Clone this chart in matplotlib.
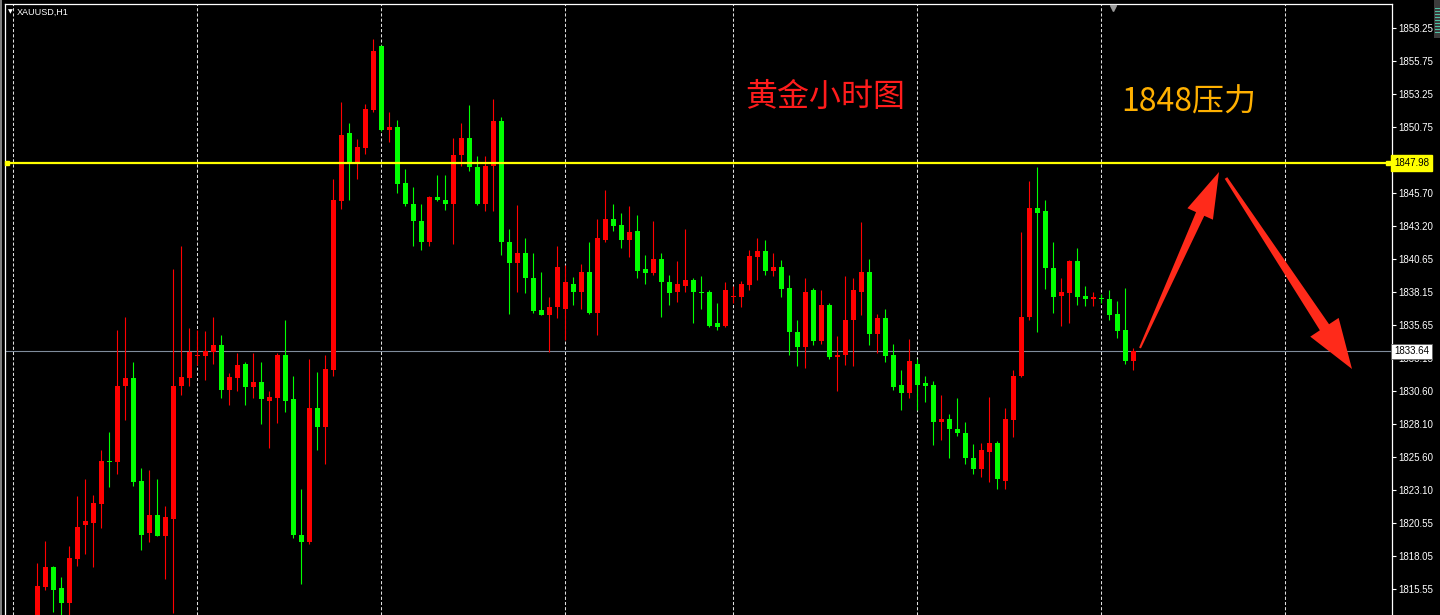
import matplotlib
matplotlib.use('Agg')
import matplotlib.pyplot as plt
from matplotlib.patches import Polygon, Rectangle
import numpy as np

# XAUUSD H1 bars (open, high, low, close)
opens = [1812.8, 1815.7, 1817.2, 1815.6, 1814.5, 1817.8, 1820.4, 1820.6, 1822.0, 1825.3,
         1825.2, 1831.0, 1831.6, 1823.8, 1819.8, 1821.2, 1819.6, 1820.9, 1831.0, 1831.6,
         1833.3, 1833.3, 1833.6, 1834.1, 1830.7, 1831.6, 1832.7, 1830.9, 1831.3, 1829.9,
         1830.1, 1833.4, 1830.0, 1819.7, 1819.1, 1829.3, 1827.9, 1832.2, 1845.1, 1850.3,
         1848.1, 1849.1, 1852.0, 1856.9, 1850.5, 1850.7, 1846.5, 1844.9, 1843.6, 1842.0,
         1845.4, 1845.2, 1844.9, 1848.6, 1849.9, 1847.7, 1844.9, 1847.8, 1851.2, 1842.0,
         1840.4, 1841.1, 1839.2, 1836.8, 1836.4, 1837.0, 1836.9, 1838.8, 1838.2, 1839.7,
         1836.6, 1842.1, 1843.7, 1843.3, 1842.1, 1842.8, 1839.9, 1839.6, 1840.7, 1838.9,
         1838.2, 1838.6, 1839.1, 1838.2, 1838.2, 1835.8, 1835.6, 1837.8, 1837.8, 1838.7,
         1840.8, 1841.3, 1839.8, 1840.1, 1838.5, 1835.1, 1834.0, 1838.3, 1834.4, 1837.2,
         1833.2, 1833.4, 1836.0, 1838.2, 1839.7, 1835.0, 1836.2, 1833.4, 1831.1, 1830.5,
         1832.7, 1831.2, 1831.1, 1828.3, 1828.5, 1827.7, 1827.4, 1825.5, 1824.7, 1826.0,
         1826.7, 1823.8, 1828.4, 1831.8, 1836.3, 1844.6, 1844.3, 1840.0, 1837.9, 1838.1,
         1840.5, 1837.9, 1837.6, 1837.7, 1837.6, 1836.5, 1835.3, 1832.9]
highs = [1817.5, 1819.2, 1817.3, 1816.5, 1818.8, 1822.6, 1823.9, 1822.7, 1826.1, 1827.5,
         1835.3, 1836.3, 1832.8, 1824.8, 1824.6, 1823.9, 1821.9, 1839.9, 1841.7, 1835.4,
         1835.3, 1835.2, 1836.3, 1834.9, 1832.0, 1833.5, 1832.8, 1833.5, 1832.8, 1830.6,
         1833.5, 1836.0, 1831.8, 1823.2, 1833.1, 1832.1, 1833.4, 1846.8, 1852.6, 1851.0,
         1849.8, 1852.5, 1857.4, 1857.0, 1851.9, 1851.3, 1847.5, 1846.2, 1844.9, 1845.5,
         1847.1, 1847.1, 1849.9, 1851.0, 1852.4, 1848.5, 1848.5, 1852.9, 1851.5, 1843.0,
         1844.8, 1842.3, 1841.1, 1839.7, 1837.8, 1841.7, 1840.2, 1839.3, 1840.3, 1842.0,
         1843.7, 1845.9, 1844.9, 1844.2, 1844.7, 1844.0, 1841.0, 1843.6, 1841.1, 1839.5,
         1840.5, 1843.0, 1839.2, 1839.4, 1838.3, 1837.3, 1838.9, 1838.6, 1839.0, 1841.4,
         1842.3, 1842.1, 1841.1, 1840.6, 1839.5, 1836.0, 1839.2, 1838.5, 1838.3, 1837.3,
         1834.8, 1839.4, 1839.2, 1843.5, 1840.7, 1836.5, 1836.9, 1834.2, 1832.2, 1834.6,
         1833.1, 1831.8, 1831.4, 1830.3, 1828.9, 1830.1, 1828.3, 1826.6, 1826.7, 1830.2,
         1826.8, 1829.3, 1832.2, 1842.7, 1846.6, 1847.7, 1845.2, 1842.0, 1839.2, 1840.6,
         1841.5, 1838.6, 1838.2, 1838.0, 1838.3, 1837.5, 1838.5, 1833.9]
lows = [1812.4, 1815.5, 1813.8, 1813.2, 1813.3, 1817.3, 1818.2, 1817.2, 1820.2, 1823.3,
        1824.3, 1828.4, 1823.4, 1818.5, 1819.1, 1819.6, 1816.3, 1813.7, 1830.3, 1831.0,
        1832.6, 1831.5, 1832.7, 1830.1, 1829.6, 1830.6, 1829.6, 1830.1, 1828.1, 1826.3,
        1828.2, 1829.0, 1819.4, 1815.9, 1819.0, 1826.1, 1825.1, 1831.8, 1844.5, 1845.2,
        1846.8, 1848.7, 1851.9, 1850.4, 1849.6, 1845.7, 1844.7, 1841.7, 1841.4, 1841.7,
        1845.1, 1844.4, 1841.8, 1847.8, 1847.4, 1844.8, 1844.3, 1844.3, 1841.0, 1836.5,
        1838.2, 1838.1, 1836.6, 1836.4, 1833.6, 1836.2, 1834.5, 1837.2, 1836.9, 1836.5,
        1834.9, 1842.0, 1842.8, 1841.5, 1840.8, 1839.2, 1838.8, 1839.5, 1836.3, 1837.2,
        1837.4, 1838.2, 1835.8, 1836.9, 1835.5, 1835.3, 1835.5, 1837.3, 1837.0, 1838.3,
        1839.1, 1839.5, 1839.4, 1837.8, 1833.4, 1832.5, 1832.4, 1834.1, 1834.2, 1833.1,
        1830.6, 1832.6, 1832.5, 1836.4, 1834.1, 1833.5, 1832.8, 1830.7, 1829.2, 1830.1,
        1829.2, 1829.8, 1826.5, 1826.9, 1825.5, 1827.2, 1825.1, 1824.3, 1824.1, 1823.7,
        1823.2, 1823.2, 1827.1, 1831.7, 1836.0, 1835.1, 1838.4, 1836.6, 1835.6, 1835.8,
        1837.2, 1837.1, 1837.1, 1837.3, 1836.0, 1834.7, 1832.7, 1832.2]
closes = [1815.8, 1817.2, 1815.5, 1814.5, 1817.9, 1820.3, 1820.7, 1822.1, 1825.3, 1825.2,
          1831.0, 1831.6, 1823.7, 1819.7, 1821.2, 1819.6, 1821.0, 1831.0, 1831.7, 1833.6,
          1833.4, 1833.7, 1834.1, 1830.7, 1831.7, 1832.6, 1830.9, 1831.3, 1830.0, 1830.2,
          1833.4, 1829.9, 1819.7, 1819.1, 1829.3, 1827.9, 1832.3, 1845.2, 1850.1, 1848.1,
          1849.2, 1852.1, 1856.5, 1850.5, 1850.7, 1846.4, 1844.9, 1843.6, 1842.0, 1845.4,
          1845.2, 1844.9, 1848.6, 1849.9, 1847.7, 1844.9, 1847.8, 1851.2, 1842.0, 1840.4,
          1841.1, 1839.2, 1836.7, 1836.4, 1837.0, 1840.1, 1838.9, 1838.2, 1839.7, 1836.6,
          1842.3, 1843.7, 1843.2, 1842.1, 1842.7, 1839.8, 1839.6, 1840.7, 1838.9, 1838.1,
          1838.8, 1839.1, 1838.2, 1838.1, 1835.6, 1835.5, 1838.3, 1837.9, 1838.8, 1840.9,
          1841.3, 1839.8, 1840.1, 1838.4, 1835.1, 1834.0, 1838.2, 1834.4, 1837.2, 1833.2,
          1833.4, 1836.0, 1838.3, 1839.7, 1835.0, 1836.2, 1833.3, 1830.9, 1830.5, 1832.9,
          1831.1, 1831.0, 1828.3, 1828.5, 1827.7, 1827.4, 1825.5, 1824.7, 1826.1, 1826.7,
          1823.9, 1828.5, 1831.8, 1836.3, 1844.6, 1844.2, 1840.0, 1837.8, 1838.2, 1840.5,
          1837.8, 1837.6, 1837.8, 1837.6, 1836.4, 1835.2, 1832.9, 1833.64]

resistance = 1847.98
last_price = 1833.64
# 1848.20 sits under the yellow price box in the original, so it is left out
price_labels = [1858.25, 1855.75, 1853.25, 1850.75, 1845.70, 1843.20, 1840.65,
                1838.15, 1835.65, 1833.15, 1830.60, 1828.10, 1825.60, 1823.10, 1820.55,
                1818.05, 1815.55]
day_breaks = [-3, 20, 43, 66, 87, 110, 133, 156]
symbol = 'XAUUSD,H1'
title_cn = '黄金小时图'
note_cn = '1848压力'

W, H = 1440, 615
axfont = 'Liberation Sans'
fig = plt.figure(figsize=(W / 100, H / 100), dpi=100, facecolor='black')
ax = fig.add_axes([5 / W, 0, 1387 / W, 611 / H], facecolor='black')

o = np.array(opens); h = np.array(highs); l = np.array(lows); c = np.array(closes)
x = np.arange(len(o))
up = c >= o
cols = np.where(up, '#ff0000', '#00ff00')

for xb in day_breaks:
    ax.axvline(xb, color='#e0e0e0', lw=0.75, ls=(0, (3, 2)), zorder=1)

ax.vlines(x, l, h, colors=cols, lw=0.8, zorder=3)
body_lo = np.minimum(o, c)
body_h = np.maximum(np.abs(c - o), 0.08)
ax.bar(x, body_h, bottom=body_lo, width=0.64, color=cols, linewidth=0, zorder=4)

# horizontal lines
ax.axhline(resistance, color='#ffff00', lw=1.6, zorder=5)
ax.plot([0.0015, 0.997], [resistance, resistance], 's', ms=3.5, color='#ffff00',
        transform=ax.get_yaxis_transform(), clip_on=False, zorder=6)
ax.axhline(last_price, color='#7f8c9c', lw=0.8, zorder=2)

ax.set_xlim(-4.04, 169.33)
ax.set_ylim(1813.57, 1860.10)

ax.yaxis.tick_right()
ax.set_yticks(price_labels)
ax.set_yticklabels(['%.2f' % p for p in price_labels], family=axfont)
ax.tick_params(axis='y', direction='out', length=3, width=0.8, color='white',
               labelcolor='white', labelsize=7, pad=1.5)
ax.set_xticks([])
for s in ['left', 'right', 'top']:
    ax.spines[s].set_color('white')
    ax.spines[s].set_linewidth(0.9)
ax.spines['bottom'].set_visible(False)

tr = ax.get_yaxis_transform()
ax.text(1.0015, resistance, '%.2f' % resistance, transform=tr, fontsize=7, color='black',
        family=axfont, va='center', ha='left', zorder=10, clip_on=False,
        bbox=dict(boxstyle='square,pad=0.3', fc='#ffff00', ec='#ffff00'))
ax.text(1.0015, last_price, '%.2f' % last_price, transform=tr, fontsize=7, color='black',
        family=axfont, va='center', ha='left', zorder=10, clip_on=False,
        bbox=dict(boxstyle='square,pad=0.3', fc='white', ec='#606060', lw=0.6))

# chart shift marker
ax.plot([0.7988], [0.994], 'v', ms=5, color='#9a9a9a', transform=ax.transAxes,
        clip_on=False, zorder=6)

# top-left symbol label
fig.text(8 / W, 1 - 12 / H, '▼', color='white', fontsize=4.5, va='center')
fig.text(17 / W, 1 - 12 / H, symbol, color='white', fontsize=6.5, family=axfont,
         va='center')

# annotations
cjk = ['Noto Sans CJK SC', 'DejaVu Sans']
fig.text(825 / W, 1 - 97 / H, title_cn, color='#ff1c1c', fontsize=23, family=cjk,
         ha='center', va='center')
fig.text(1189 / W, 1 - 103 / H, note_cn, color='#ffb000', fontsize=23, family=cjk,
         ha='center', va='center')


def arrow_poly(x0, y0, x1, y1, w0, w1, hw, hl):
    d = np.array([x1 - x0, y1 - y0], float)
    u = d / np.hypot(*d)
    n = np.array([-u[1], u[0]])
    p0 = np.array([x0, y0], float)
    tip = np.array([x1, y1], float)
    base = tip - u * hl
    pts = [p0 + n * w0 / 2, base + n * w1 / 2, base + n * hw / 2, tip,
           base - n * hw / 2, base - n * w1 / 2, p0 - n * w0 / 2]
    return [(px / W, 1 - py / H) for px, py in pts]


for a in [(1140, 348, 1219, 172, 2, 9, 28, 46), (1226, 178, 1352, 369, 3, 11, 34, 50)]:
    fig.add_artist(Polygon(arrow_poly(*a), closed=True, fc='#ff2a1a', ec='none',
                           transform=fig.transFigure, zorder=20))

# window frame bits
fig.add_artist(Rectangle((0, 0), 2 / W, 1, transform=fig.transFigure, fc='#808080', ec='none'))
fig.add_artist(Rectangle((1434 / W, 1 - 38 / H), 6 / W, 38 / H, transform=fig.transFigure,
                         fc='#3c3c3c', ec='none'))
for i in range(9):
    yy = 1 - (8 + i * 3) / H
    fig.add_artist(plt.Line2D([1435 / W, 1439 / W], [yy, yy], transform=fig.transFigure,
                              color='#4fc7a8', lw=0.7))

fig.savefig('out.png', dpi=100, facecolor='black')
